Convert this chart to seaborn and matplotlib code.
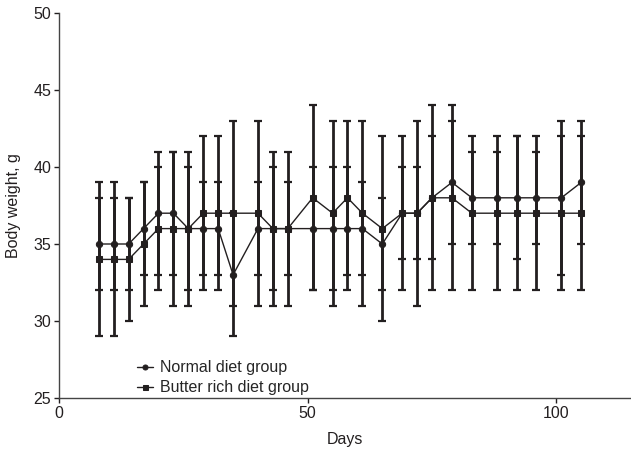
import numpy as np
import pandas as pd
import seaborn as sns
import matplotlib.pyplot as plt

sns.set_style('ticks')
plt.rcParams['font.family'] = ['Liberation Sans', 'DejaVu Sans']

days = [8, 11, 14, 17, 20, 23, 26, 29, 32, 35, 40, 43, 46, 51, 55, 58, 61, 65, 69, 72, 75,
        79, 83, 88, 92, 96, 101, 105]

normal_mean = [35, 35, 35, 36, 37, 37, 36, 36, 36, 33, 36, 36, 36, 36, 36, 36, 36, 35, 37, 37, 38,
               39, 38, 38, 38, 38, 38, 39]
normal_err = [3, 3, 3, 3, 4, 4, 4, 3, 3, 4, 3, 4, 3, 4, 4, 4, 3, 3, 3, 3, 4,
              4, 3, 3, 4, 3, 5, 4]

butter_mean = [34, 34, 34, 35, 36, 36, 36, 37, 37, 37, 37, 36, 36, 38, 37, 38, 37, 36, 37, 37, 38,
               38, 37, 37, 37, 37, 37, 37]
butter_err = [5, 5, 4, 4, 4, 5, 5, 5, 5, 6, 6, 5, 5, 6, 6, 5, 6, 6, 5, 6, 6,
              6, 5, 5, 5, 5, 5, 5]

col = '#231f20'

df = pd.DataFrame({
    'day': days * 2,
    'weight': normal_mean + butter_mean,
    'err': normal_err + butter_err,
    'group': ['Normal diet group'] * len(days) + ['Butter rich diet group'] * len(days),
})

fig = plt.figure(figsize=(6.31, 4.53), dpi=100)
ax = fig.add_axes([59 / 631, 55 / 453, 572 / 631, 385 / 453])

# error bars first, then lines with markers on top
for g in ['Normal diet group', 'Butter rich diet group']:
    sub = df[df['group'] == g]
    ax.errorbar(sub['day'], sub['weight'], yerr=sub['err'], fmt='none', ecolor=col,
                elinewidth=2.0, capsize=2.8, capthick=1.6, zorder=2)

sns.lineplot(data=df, x='day', y='weight', style='group', markers=['o', 's'], dashes=False,
             color=col, linewidth=1.0, markersize=4.5, markeredgecolor=col, ax=ax, zorder=3)

ax.set_xlim(0, 115)
ax.set_ylim(25, 50)
ax.set_xticks([0, 50, 100])
ax.set_yticks([25, 30, 35, 40, 45, 50])
ax.set_xlabel('Days', fontsize=11.5, color=col, labelpad=8)
ax.set_ylabel('Body weight, g', fontsize=11.5, color=col, labelpad=9)
ax.tick_params(labelsize=11.5, colors=col, length=3.6, width=1, pad=2)
for s in ['top', 'right']:
    ax.spines[s].set_visible(False)
for s in ['left', 'bottom']:
    ax.spines[s].set_color('#444444')
    ax.spines[s].set_linewidth(1.0)

ax.legend(loc='lower left', bbox_to_anchor=(0.112, -0.03), frameon=False, fontsize=11.5,
          handlelength=1.0, handletextpad=0.4, labelspacing=0.3, markerscale=0.8, title=None)

fig.savefig('out.png', dpi=100)
